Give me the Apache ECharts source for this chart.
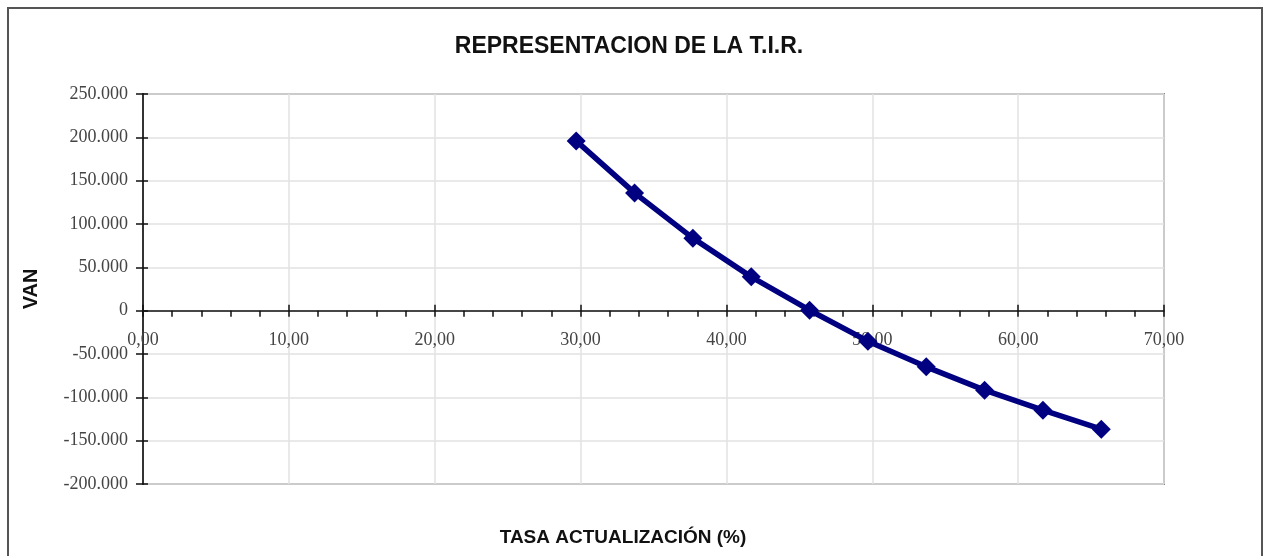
<!DOCTYPE html>
<html>
<head>
<meta charset="utf-8">
<script src="https://cdn.jsdelivr.net/npm/echarts@6/dist/echarts.min.js"></script>
<style>
  html, body { margin: 0; padding: 0; background: #fff; }
  #chart { width: 1265px; height: 556px; }
</style>
</head>
<body>
<div id="chart"></div>
<script>
// Discount rate (%) and net present value (VAN) pairs
const tasa = [29.7, 33.7, 37.7, 41.7, 45.7, 49.7, 53.7, 57.7, 61.7, 65.7];
const van = [195900, 135900, 83700, 39000, 500, -35200, -64800, -91700, -114800, -136700];

// Axis settings
const xMin = 0, xMax = 70, xStep = 10;
const yMin = -200000, yMax = 250000, yStep = 50000;

const points = tasa.map((t, i) => [t, van[i]]);

// Spanish number formats: thousands with '.', decimals with ','
function fmtVan(v) {
  if (v === 0) return '0';
  const s = Math.abs(v).toString().replace(/\B(?=(\d{3})+(?!\d))/g, '.');
  return (v < 0 ? '-' : '') + s;
}
function fmtTasa(v) {
  return v.toFixed(2).replace('.', ',');
}

const serif = '"Liberation Serif", "Times New Roman", serif';
const sans = '"Liberation Sans", Arial, sans-serif';

// Plot rectangle
const gridLeft = 143, gridTop = 94, gridRight = 101, gridBottom = 72;
const plotH = 556 - gridTop - gridBottom;
// The rate axis sits on VAN = 0: shift it up from the bottom edge
const zeroOffset = -plotH * (0 - yMin) / (yMax - yMin);

const tickStyle = { color: '#111', width: 1.5 };

const chart = echarts.init(document.getElementById('chart'));
chart.setOption({
  animation: false,
  backgroundColor: '#fff',
  grid: {
    left: gridLeft, right: gridRight, top: gridTop, bottom: gridBottom,
    show: true, borderColor: '#888', borderWidth: 2, backgroundColor: 'transparent'
  },
  graphic: [
    {
      type: 'rect',
      shape: { x: 8, y: 8, width: 1254, height: 600 },
      style: { fill: 'none', stroke: '#555', lineWidth: 2 },
      silent: true
    },
    {
      type: 'text',
      x: 629, y: 47,
      style: {
        text: 'REPRESENTACION DE LA T.I.R.', textAlign: 'center', textVerticalAlign: 'middle',
        font: 'bold 23px ' + sans, fill: '#111'
      }
    },
    {
      type: 'text',
      x: 623, y: 538,
      style: {
        text: 'TASA ACTUALIZACIÓN (%)', textAlign: 'center', textVerticalAlign: 'middle',
        font: 'bold 19px ' + sans, fill: '#111'
      }
    },
    {
      type: 'text',
      x: 31, y: 289, rotation: Math.PI / 2,
      style: {
        text: 'VAN', textAlign: 'center', textVerticalAlign: 'middle',
        font: 'bold 20px ' + sans, fill: '#111'
      }
    }
  ],
  xAxis: [
    {
      type: 'value', min: xMin, max: xMax, interval: xStep,
      position: 'bottom', offset: zeroOffset,
      axisLine: { show: true, onZero: false, lineStyle: { color: '#111', width: 1.5 } },
      axisTick: { show: true, inside: false, length: 6, lineStyle: tickStyle },
      minorTick: { show: true, splitNumber: 5, length: 6, lineStyle: tickStyle },
      axisLabel: {
        margin: 21, color: '#444', fontFamily: serif, fontSize: 18,
        formatter: fmtTasa
      },
      splitLine: { show: true, lineStyle: { color: '#e2e2e2', width: 1.5 } }
    },
    {
      type: 'value', min: xMin, max: xMax, interval: xStep,
      position: 'bottom', offset: zeroOffset,
      axisLine: { show: false, onZero: false },
      axisTick: { show: true, inside: true, length: 6, lineStyle: tickStyle },
      axisLabel: { show: false },
      splitLine: { show: false }
    }
  ],
  yAxis: [
    {
      type: 'value', min: yMin, max: yMax, interval: yStep,
      position: 'left',
      axisLine: { show: true, onZero: false, lineStyle: { color: '#333', width: 2 } },
      axisTick: { show: true, inside: false, length: 7, lineStyle: tickStyle },
      axisLabel: {
        margin: 15, color: '#444', fontFamily: serif, fontSize: 18,
        formatter: fmtVan
      },
      splitLine: { show: true, lineStyle: { color: '#e2e2e2', width: 1.5 } }
    },
    {
      type: 'value', min: yMin, max: yMax, interval: yStep,
      position: 'left', offset: 0,
      axisLine: { show: true, onZero: false, lineStyle: { color: '#333', width: 2 } },
      axisTick: { show: true, inside: true, length: 5, lineStyle: tickStyle },
      axisLabel: { show: false },
      splitLine: { show: false }
    }
  ],
  series: [
    {
      type: 'line',
      data: points,
      xAxisIndex: 0, yAxisIndex: 0,
      symbol: 'diamond', symbolSize: 19,
      lineStyle: { color: '#000080', width: 5.5 },
      itemStyle: { color: '#000080' },
      z: 5
    }
  ]
});
</script>
</body>
</html>
